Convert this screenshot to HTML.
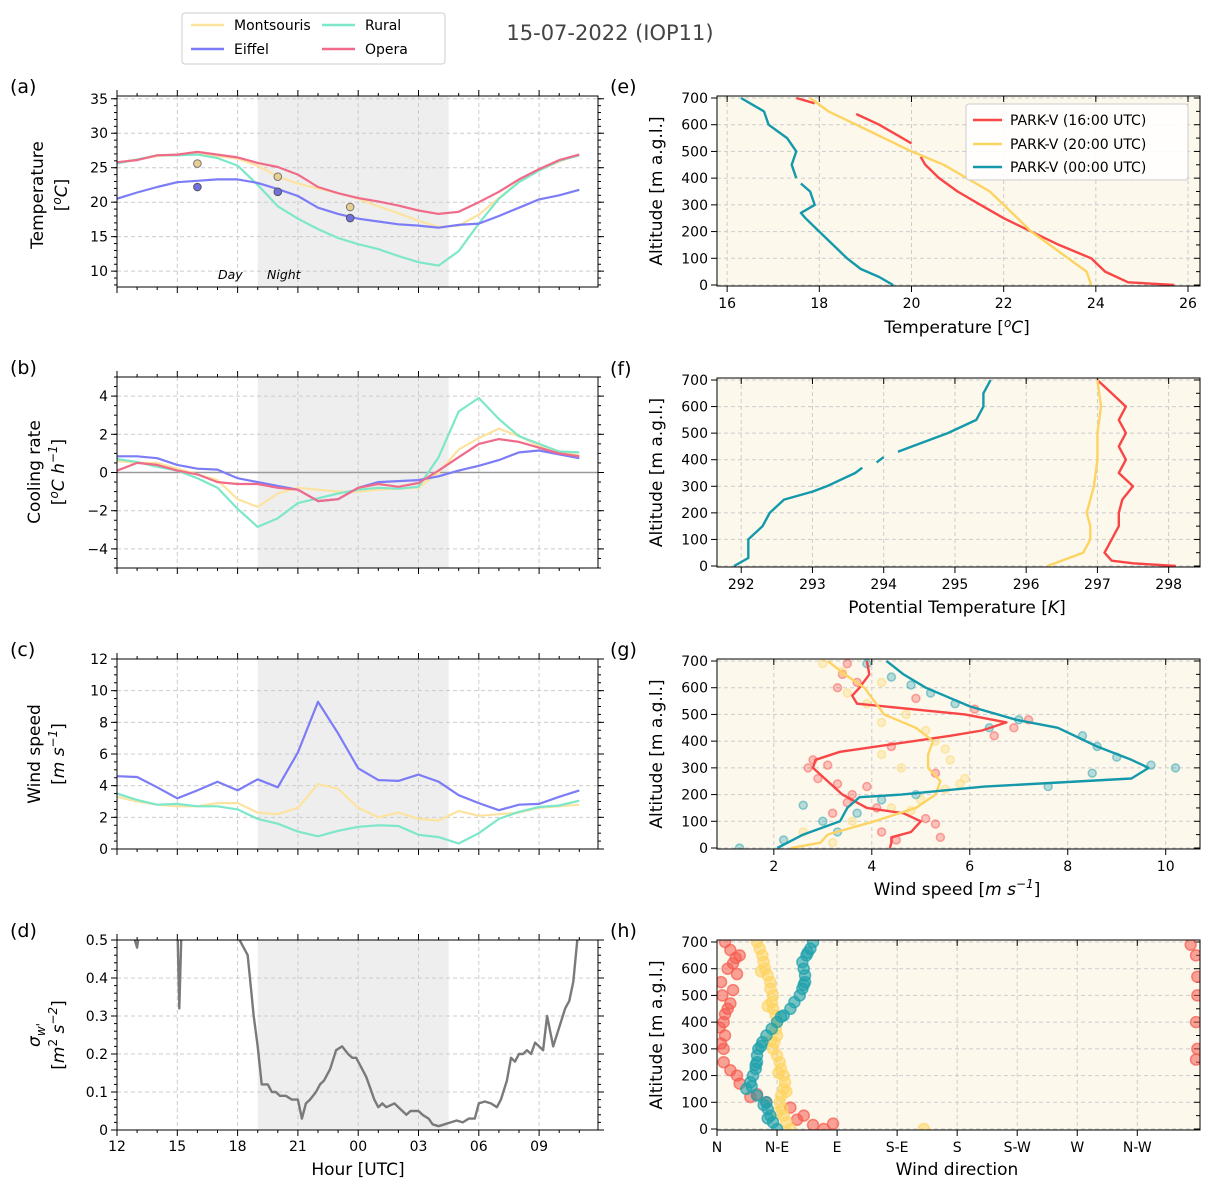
<!DOCTYPE html>
<html><head><meta charset="utf-8"><style>
body{margin:0;background:#fff;}
svg{display:block;font-family:"DejaVu Sans","Liberation Sans",sans-serif;}
</style></head><body>
<svg id="fig" width="1215" height="1191" viewBox="0 0 1215 1191" xmlns="http://www.w3.org/2000/svg"></svg>
<script>
// ---------- DATA ----------
const hours = [12,13,14,15,16,17,18,19,20,21,22,23,24,25,26,27,28,29,30,31,32,33,34,35];
const tempMontsouris = [25.7,26.2,26.7,26.9,27.0,26.7,26.3,25.3,23.7,22.7,22.0,21.3,20.5,19.4,18.4,17.3,16.4,16.6,18.2,20.6,23.0,24.6,25.9,26.9];
const tempEiffel = [20.5,21.4,22.2,22.9,23.1,23.3,23.3,22.8,21.9,20.9,19.2,18.3,17.6,17.2,16.8,16.6,16.3,16.7,16.9,18.0,19.2,20.4,21.0,21.8];
const tempRural = [25.6,26.2,26.8,26.8,26.9,26.4,25.3,22.5,19.4,17.6,16.1,14.8,13.9,13.2,12.2,11.3,10.8,12.9,16.9,20.5,22.9,24.6,26.0,26.8];
const tempOpera = [25.8,26.1,26.8,26.9,27.3,26.9,26.5,25.7,25.1,24.0,22.2,21.3,20.6,20.1,19.5,18.8,18.3,18.6,20.0,21.5,23.3,24.8,26.1,26.9];
const markHours = [16,20,23.6];
const markMontsouris = [25.6,23.7,19.3];
const markEiffel = [22.2,21.5,17.7];

const coolMontsouris = [0.6,0.5,0.5,0.2,-0.1,-0.4,-1.4,-1.8,-1.1,-0.8,-0.9,-1.0,-1.0,-0.9,-0.85,-0.8,0.0,1.2,1.8,2.3,1.9,1.4,1.1,0.9];
const coolEiffel = [0.85,0.85,0.75,0.4,0.2,0.15,-0.3,-0.5,-0.7,-0.9,-1.5,-1.4,-0.8,-0.5,-0.45,-0.4,-0.2,0.1,0.35,0.65,1.05,1.15,0.95,0.75];
const coolRural = [0.7,0.55,0.3,0.1,-0.3,-0.8,-1.9,-2.85,-2.4,-1.6,-1.35,-1.1,-0.9,-0.8,-0.85,-0.75,0.8,3.2,3.9,2.8,1.9,1.5,1.1,1.05];
const coolOpera = [0.1,0.5,0.4,0.1,-0.1,-0.5,-0.6,-0.6,-0.8,-0.9,-1.5,-1.4,-0.8,-0.6,-0.75,-0.55,0.1,0.8,1.5,1.75,1.6,1.3,1.0,0.85];

const windMontsouris = [3.3,3.0,2.8,2.7,2.7,2.9,2.9,2.3,2.2,2.6,4.1,3.8,2.6,2.0,2.3,1.9,1.8,2.4,2.1,2.2,2.3,2.6,2.7,2.8];
const windEiffel = [4.6,4.55,3.9,3.2,3.7,4.25,3.7,4.4,3.9,6.1,9.3,7.3,5.1,4.35,4.3,4.7,4.25,3.4,2.9,2.45,2.8,2.85,3.3,3.7];
const windRural = [3.5,3.1,2.8,2.85,2.7,2.7,2.5,1.9,1.6,1.1,0.8,1.15,1.4,1.5,1.45,0.9,0.75,0.35,1.0,1.9,2.35,2.65,2.75,3.05];

const sigHours = [12.0,12.6,13.0,13.1,13.5,14.5,15.0,15.1,15.25,16.5,17.9,18.1,18.5,18.8,19.0,19.2,19.5,19.7,19.9,20.1,20.4,20.7,21.0,21.2,21.4,21.6,21.9,22.1,22.3,22.6,22.9,23.2,23.5,23.7,23.9,24.2,24.4,24.6,24.8,25.0,25.2,25.4,25.6,25.8,26.0,26.2,26.4,26.6,26.8,27.0,27.2,27.5,27.7,28.0,28.3,28.6,28.9,29.2,29.5,29.8,30.0,30.3,30.6,30.9,31.1,31.4,31.6,31.8,32.0,32.2,32.4,32.6,32.8,33.0,33.2,33.4,33.7,34.0,34.3,34.5,34.7,34.9,35.0];
const sigValues = [0.6,0.55,0.48,0.52,0.6,0.62,0.55,0.32,0.6,0.62,0.55,0.5,0.46,0.3,0.22,0.12,0.12,0.1,0.1,0.09,0.09,0.08,0.08,0.03,0.07,0.08,0.1,0.12,0.13,0.16,0.21,0.22,0.2,0.19,0.19,0.16,0.14,0.11,0.08,0.06,0.07,0.06,0.065,0.07,0.06,0.05,0.04,0.05,0.05,0.05,0.04,0.03,0.015,0.01,0.015,0.02,0.025,0.02,0.03,0.03,0.07,0.075,0.07,0.06,0.08,0.13,0.19,0.18,0.2,0.2,0.21,0.2,0.23,0.22,0.21,0.3,0.22,0.27,0.32,0.34,0.39,0.5,0.7];

const altE16 = [0,10,50,100,150,200,250,300,350,400,450,480,null,530,550,600,640,null,680,700];
const tE16 = [25.7,24.7,24.2,23.9,23.2,22.6,22.0,21.5,21.0,20.6,20.3,20.2,null,20.0,19.8,19.3,18.8,null,17.9,17.5];
const altE20 = [0,50,100,150,200,250,300,350,400,450,500,550,600,650,700];
const tE20 = [23.9,23.8,23.4,23.0,22.6,22.3,22.0,21.7,21.2,20.7,20.0,19.4,18.8,18.2,17.8];
const altE00 = [0,30,60,100,150,200,250,270,300,350,380,null,400,450,500,550,600,650,700];
const tE00 = [19.6,19.3,18.9,18.6,18.3,18.0,17.7,17.6,17.9,17.8,17.6,null,17.5,17.4,17.5,17.3,16.9,16.8,16.3];

const altF16 = [0,10,20,50,100,150,200,250,300,350,400,450,500,550,600,650,700];
const thF16 = [298.1,297.5,297.2,297.1,297.2,297.3,297.3,297.35,297.5,297.3,297.4,297.3,297.4,297.3,297.4,297.2,297.0];
const altF20 = [0,50,100,150,200,250,300,400,500,600,700];
const thF20 = [296.3,296.8,296.9,296.9,296.85,296.9,296.95,297.0,297.0,297.05,297.0];
const altF00 = [0,30,100,150,200,250,280,300,350,370,null,390,410,null,430,450,500,550,600,650,700];
const thF00 = [291.9,292.1,292.1,292.3,292.4,292.6,293.0,293.2,293.6,293.7,null,293.9,294.0,null,294.2,294.4,294.9,295.3,295.4,295.4,295.5];

const altG = [0,20,40,60,100,130,150,200,250,300,330,360,420,440,470,500,540,570,600,650,700];
const wsG16 = [4.37,4.4,4.4,4.8,5.0,4.65,3.9,3.4,3.1,2.8,2.85,3.35,5.6,6.25,6.75,5.9,3.7,3.6,3.75,3.95,3.9];
const altG2 = [0,20,50,100,150,200,250,300,350,400,450,500,550,600,650,700];
const wsG20 = [2.35,2.95,3.1,4.05,4.9,5.3,5.4,5.15,5.15,5.25,4.9,4.25,4.05,3.85,3.45,3.1];
const altG3 = [0,50,100,150,190,200,230,260,300,330,380,450,480,530,600,650,700];
const wsG00 = [2.07,2.6,3.35,3.5,3.75,4.6,6.3,9.3,9.65,9.3,8.6,7.8,6.95,6.0,5.1,4.65,4.3];
const dotAlt16 = [30,60,90,110,150,170,200,240,260,300,310,330,380,420,450,480,520,560,600,620,650,690,40,130,230,280];
const dotWs16 = [4.5,4.2,5.3,5.1,4.1,3.5,3.6,3.3,2.9,2.7,3.1,2.8,4.4,6.5,6.9,7.2,6.1,4.9,3.3,3.7,3.4,3.5,5.4,3.2,3.9,5.3];
const dotAlt20 = [20,60,100,140,180,220,260,300,330,370,400,440,470,500,540,580,620,660,690,150,240,350];
const dotWs20 = [3.2,2.6,3.6,4.8,5.0,5.5,5.9,4.6,5.6,5.5,5.3,5.1,4.2,4.7,3.9,3.5,4.2,3.4,3.0,4.4,5.8,4.2];
const dotAlt00 = [0,30,60,100,130,180,230,300,280,310,340,380,420,450,480,540,580,610,640,690,200,160];
const dotWs00 = [1.3,2.2,3.3,3.0,3.7,4.2,7.6,10.2,8.5,9.7,9.0,8.6,8.3,6.4,7.0,5.7,5.2,4.8,4.4,3.9,4.9,2.6];

const dirAlt16 = [0,20,50,80,100,130,170,200,250,300,350,400,450,500,550,600,620,650,670,700,260,300,400,500,570,650,690,15,35,120,220,320,380,430,470,520,580,640];
const dir16 = [80,87,65,55,37,30,17,15,5,5,6,5,8,4,3,8,12,17,10,6,359,360,359,360,360,359,355,72,60,25,10,3,2,6,10,12,15,14];
const dirAlt20 = [0,25,50,75,100,125,150,175,200,225,250,275,300,325,350,375,400,425,450,475,500,525,550,575,600,625,650,675,700,0,60,140,210,330,460,590];
const dir20 = [55,52,50,49,47,48,50,51,50,48,47,45,42,43,45,44,45,44,42,41,42,40,40,38,36,35,34,32,30,155,45,52,46,40,38,33];
const dirAlt00 = [0,25,50,75,100,125,150,175,200,225,250,275,300,325,350,375,400,425,450,475,500,525,550,575,600,625,650,675,700,40,90,160,240,310,420,540,660];
const dir00 = [45,42,40,38,37,30,22,25,27,29,30,30,31,34,37,41,45,50,55,58,62,64,66,66,65,64,67,70,72,38,35,26,29,33,48,65,68];

// ---------- HELPERS ----------
const svg = document.getElementById('fig');
const NS = 'http://www.w3.org/2000/svg';
function mk(tag, attrs, parent, name) {
  const e = document.createElementNS(NS, tag);
  for (const k in attrs) e.setAttribute(k, attrs[k]);
  
  
  (parent || svg).appendChild(e);
  return e;
}
function txt(s, attrs, name, parent) { const t = mk('text', attrs, parent, name); t.textContent = s; return t; }
function lin(d0, d1, r0, r1) { return v => r0 + (v - d0) / (d1 - d0) * (r1 - r0); }
function pathD(xs, ys, sx, sy) {
  let d = '', pen = false;
  for (let i = 0; i < xs.length; i++) {
    if (xs[i] === null || ys[i] === null) { pen = false; continue; }
    d += (pen ? 'L' : 'M') + sx(xs[i]).toFixed(1) + ',' + sy(ys[i]).toFixed(1);
    pen = true;
  }
  return d;
}
const C = {mont:'#fde3a0', eiff:'#7c7cf6', rur:'#7de7c9', op:'#f06b89', r:'#f84646', y:'#fdd462', t:'#1499ab'};
const TF = 14, AF = 17;

const LX0 = 117, LX1 = 598;
const hx = lin(12, 12 + (LX1 - LX0) / 20.1, LX0, LX1);
const panelsL = [
  {y0:96, y1:287, lo:7.7, hi:35.4, ticks:[10,15,20,25,30,35], minor:1, lab:'(a)'},
  {y0:377, y1:568, lo:-5, hi:5, ticks:[-4,-2,0,2,4], minor:0.5, lab:'(b)'},
  {y0:659, y1:849, lo:0, hi:12, ticks:[0,2,4,6,8,10,12], minor:0.5, lab:'(c)'},
  {y0:940, y1:1130, lo:0, hi:0.5, ticks:[0,0.1,0.2,0.3,0.4,0.5], minor:0.02, lab:'(d)'}
];
const hourTicks = [12,15,18,21,24,27,30,33];
const hourLabels = ['12','15','18','21','00','03','06','09'];

function leftPanel(p, idx) {
  const g = mk('g', {}, svg, 'panel-' + p.lab.replace(/[()]/g,''));
  const sy = lin(p.lo, p.hi, p.y1, p.y0);
  const cid = 'clipL' + idx;
  const cp = mk('clipPath', {id: cid}, g, 'clip');
  mk('rect', {x: LX0, y: p.y0, width: LX1 - LX0, height: p.y1 - p.y0}, cp, 'clip-rect');
  mk('rect', {x: hx(19), y: p.y0, width: hx(28.5) - hx(19), height: p.y1 - p.y0, fill: '#eeeeee'}, g, 'night-shade');
  hourTicks.forEach(h => mk('line', {x1: hx(h), x2: hx(h), y1: p.y0, y2: p.y1, stroke: '#cccccc', 'stroke-dasharray': '4,3', 'stroke-width': 1}, g, 'grid-x'));
  p.ticks.forEach(v => mk('line', {x1: LX0, x2: LX1, y1: sy(v), y2: sy(v), stroke: '#cccccc', 'stroke-dasharray': '4,3', 'stroke-width': 1}, g, 'grid-y'));
  for (let h = 12; h <= 35; h++) {
    const L = (h % 3 === 0) ? 6 : 3;
    mk('line', {x1: hx(h), x2: hx(h), y1: p.y1, y2: p.y1 + L, stroke: '#000'}, g, 'x-tick');
    mk('line', {x1: hx(h), x2: hx(h), y1: p.y0, y2: p.y0 - L, stroke: '#000'}, g, 'x-tick-top');
  }
  for (let v = Math.ceil(p.lo / p.minor) * p.minor; v <= p.hi + 1e-9; v += p.minor) {
    mk('line', {x1: LX0, x2: LX0 - 3, y1: sy(v), y2: sy(v), stroke: '#000'}, g, 'y-minor-tick');
    mk('line', {x1: LX1, x2: LX1 + 3, y1: sy(v), y2: sy(v), stroke: '#000'}, g, 'y-minor-tick-right');
  }
  p.ticks.forEach(v => {
    mk('line', {x1: LX0, x2: LX0 - 6, y1: sy(v), y2: sy(v), stroke: '#000'}, g, 'y-tick');
    mk('line', {x1: LX1, x2: LX1 + 6, y1: sy(v), y2: sy(v), stroke: '#000'}, g, 'y-tick-right');
    txt(String(Math.round(v * 10) / 10).replace('-', '−'), {x: LX0 - 9, y: sy(v) + 5, 'text-anchor': 'end', 'font-size': TF}, 'y-tick-label', g);
  });
  txt(p.lab, {x: 10, y: p.y0 - 3, 'font-size': 19}, 'panel-label', g);
  return {g, sy, cid};
}
function series(g, cid, xs, ys, sx, sy, col, w, name, op) {
  mk('path', {d: pathD(xs, ys, sx, sy), fill: 'none', stroke: col, 'stroke-width': w, 'clip-path': 'url(#' + cid + ')', 'stroke-linejoin': 'round', opacity: op || 1}, g, name);
}

// (a)
let P = leftPanel(panelsL[0], 0);
series(P.g, P.cid, hours, tempMontsouris, hx, P.sy, C.mont, 2.2, 'line-montsouris');
series(P.g, P.cid, hours, tempRural, hx, P.sy, C.rur, 2.2, 'line-rural');
series(P.g, P.cid, hours, tempEiffel, hx, P.sy, C.eiff, 2.2, 'line-eiffel');
series(P.g, P.cid, hours, tempOpera, hx, P.sy, C.op, 2.2, 'line-opera');
markHours.forEach((h, i) => {
  mk('circle', {cx: hx(h), cy: P.sy(markMontsouris[i]), r: 3.8, fill: '#e8cf90', stroke: '#777', 'stroke-width': 1}, P.g, 'marker-montsouris');
  mk('circle', {cx: hx(h), cy: P.sy(markEiffel[i]), r: 3.8, fill: '#7070e0', stroke: '#555', 'stroke-width': 1}, P.g, 'marker-eiffel');
});
txt('Day', {x: 218, y: 279, 'font-size': 12.5, 'font-style': 'italic'}, 'day-label', P.g);
txt('Night', {x: 267, y: 279, 'font-size': 12.5, 'font-style': 'italic'}, 'night-label', P.g);
mk('rect', {x: LX0, y: 96, width: LX1 - LX0, height: 191, fill: 'none', stroke: '#000', 'stroke-width': 1}, P.g, 'axes-frame');
let t = txt('', {transform: 'translate(43,195) rotate(-90)', 'text-anchor': 'middle', 'font-size': AF}, 'y-axis-title', P.g);
t.innerHTML = '<tspan x="0" dy="0">Temperature</tspan><tspan x="0" dy="24">[<tspan font-style="italic" dy="-6" font-size="12">o</tspan><tspan font-style="italic" dy="6">C</tspan>]</tspan>';

// (b)
P = leftPanel(panelsL[1], 1);
mk('line', {x1: LX0, x2: LX1, y1: P.sy(0), y2: P.sy(0), stroke: '#999', 'stroke-width': 1.6}, P.g, 'zero-line');
series(P.g, P.cid, hours, coolMontsouris, hx, P.sy, C.mont, 2.2, 'line-montsouris');
series(P.g, P.cid, hours, coolRural, hx, P.sy, C.rur, 2.2, 'line-rural');
series(P.g, P.cid, hours, coolEiffel, hx, P.sy, C.eiff, 2.2, 'line-eiffel');
series(P.g, P.cid, hours, coolOpera, hx, P.sy, C.op, 2.2, 'line-opera');
mk('rect', {x: LX0, y: 377, width: LX1 - LX0, height: 191, fill: 'none', stroke: '#000'}, P.g, 'axes-frame');
t = txt('', {transform: 'translate(40,472) rotate(-90)', 'text-anchor': 'middle', 'font-size': AF}, 'y-axis-title', P.g);
t.innerHTML = '<tspan x="0" dy="0">Cooling rate</tspan><tspan x="0" dy="24">[<tspan font-style="italic" dy="-6" font-size="12">o</tspan><tspan font-style="italic" dy="6">C h</tspan><tspan font-style="italic" dy="-7" font-size="12">−1</tspan><tspan dy="7">]</tspan></tspan>';

// (c)
P = leftPanel(panelsL[2], 2);
series(P.g, P.cid, hours, windMontsouris, hx, P.sy, C.mont, 2.2, 'line-montsouris');
series(P.g, P.cid, hours, windRural, hx, P.sy, C.rur, 2.2, 'line-rural');
series(P.g, P.cid, hours, windEiffel, hx, P.sy, C.eiff, 2.2, 'line-eiffel');
mk('rect', {x: LX0, y: 659, width: LX1 - LX0, height: 190, fill: 'none', stroke: '#000'}, P.g, 'axes-frame');
t = txt('', {transform: 'translate(40,754) rotate(-90)', 'text-anchor': 'middle', 'font-size': AF}, 'y-axis-title', P.g);
t.innerHTML = '<tspan x="0" dy="0">Wind speed</tspan><tspan x="0" dy="24">[<tspan font-style="italic">m s</tspan><tspan font-style="italic" dy="-7" font-size="12">−1</tspan><tspan dy="7">]</tspan></tspan>';

// (d)
P = leftPanel(panelsL[3], 3);
series(P.g, P.cid, sigHours, sigValues, hx, P.sy, '#7a7a7a', 2.4, 'line-sigma-w');
mk('rect', {x: LX0, y: 940, width: LX1 - LX0, height: 190, fill: 'none', stroke: '#000'}, P.g, 'axes-frame');
hourTicks.forEach((h, i) => txt(hourLabels[i], {x: hx(h), y: 1151, 'text-anchor': 'middle', 'font-size': TF}, 'x-tick-label', P.g));
txt('Hour [UTC]', {x: 358, y: 1175, 'text-anchor': 'middle', 'font-size': AF}, 'x-axis-title', P.g);
t = txt('', {transform: 'translate(40,1035) rotate(-90)', 'text-anchor': 'middle', 'font-size': AF}, 'y-axis-title', P.g);
t.innerHTML = '<tspan x="0" dy="0" font-style="italic">σ<tspan font-size="12" dy="5">w\'</tspan></tspan><tspan x="0" dy="19">[<tspan font-style="italic">m</tspan><tspan dy="-7" font-size="12">2</tspan><tspan font-style="italic" dy="7"> s</tspan><tspan font-style="italic" dy="-7" font-size="12">−2</tspan><tspan dy="7">]</tspan></tspan>';

// ---------- RIGHT PANELS ----------
const RX0 = 717, RX1 = 1200;
const panelsR = [
  {y0:96, y1:286, lo:15.78, hi:26.26, ticks:[16,18,20,22,24,26], labs:['16','18','20','22','24','26'], lab:'(e)'},
  {y0:378, y1:567, lo:291.66, hi:298.44, ticks:[292,293,294,295,296,297,298], labs:['292','293','294','295','296','297','298'], lab:'(f)'},
  {y0:659, y1:849, lo:0.84, hi:10.7, ticks:[2,4,6,8,10], labs:['2','4','6','8','10'], lab:'(g)'},
  {y0:940, y1:1130, lo:0, hi:362, ticks:[0,45,90,135,180,225,270,315], labs:['N','N-E','E','S-E','S','S-W','W','N-W'], lab:'(h)'}
];
function rightPanel(p, idx) {
  const g = mk('g', {}, svg, 'panel-' + p.lab.replace(/[()]/g,''));
  const sx = lin(p.lo, p.hi, RX0, RX1);
  const sy = lin(0, 700, p.y1 - 1, p.y0 + 2);
  const cid = 'clipR' + idx;
  const cp = mk('clipPath', {id: cid}, g, 'clip');
  mk('rect', {x: RX0, y: p.y0, width: RX1 - RX0, height: p.y1 - p.y0}, cp, 'clip-rect');
  mk('rect', {x: RX0, y: p.y0, width: RX1 - RX0, height: p.y1 - p.y0, fill: '#fdf8ec'}, g, 'plot-background');
  p.ticks.forEach(v => mk('line', {x1: sx(v), x2: sx(v), y1: p.y0, y2: p.y1, stroke: '#cccccc', 'stroke-dasharray': '4,3'}, g, 'grid-x'));
  for (let a = 0; a <= 700; a += 100) mk('line', {x1: RX0, x2: RX1, y1: sy(a), y2: sy(a), stroke: '#cccccc', 'stroke-dasharray': '4,3'}, g, 'grid-y');
  for (let a = 0; a <= 700; a += 100) {
    mk('line', {x1: RX0, x2: RX0 - 6, y1: sy(a), y2: sy(a), stroke: '#000'}, g, 'y-tick');
    txt(String(a), {x: RX0 - 9, y: sy(a) + 5, 'text-anchor': 'end', 'font-size': TF}, 'y-tick-label', g);
  }
  for (let a = 0; a <= 700; a += 50) mk('line', {x1: RX1, x2: RX1 - (a % 100 ? 4 : 6), y1: sy(a), y2: sy(a), stroke: '#000'}, g, 'y-tick-right');
  p.ticks.forEach((v, i) => {
    mk('line', {x1: sx(v), x2: sx(v), y1: p.y1, y2: p.y1 + 6, stroke: '#000'}, g, 'x-tick');
    mk('line', {x1: sx(v), x2: sx(v), y1: p.y0, y2: p.y0 + 6, stroke: '#000'}, g, 'x-tick-top');
    txt(p.labs[i], {x: sx(v), y: p.y1 + 22, 'text-anchor': 'middle', 'font-size': TF}, 'x-tick-label', g);
  });
  txt(p.lab, {x: 610, y: p.y0 - 3, 'font-size': 19}, 'panel-label', g);
  txt('Altitude [m a.g.l.]', {transform: 'translate(662,' + ((p.y0 + p.y1) / 2) + ') rotate(-90)', 'text-anchor': 'middle', 'font-size': AF}, 'y-axis-title', g);
  return {g, sx, sy, cid, p};
}
function frame(R) { mk('rect', {x: RX0, y: R.p.y0, width: RX1 - RX0, height: R.p.y1 - R.p.y0, fill: 'none', stroke: '#000'}, R.g, 'axes-frame'); }
function dots(R, alts, vals, col, r, op, name) {
  alts.forEach((a, i) => {
    mk('circle', {cx: R.sx(vals[i]), cy: R.sy(a), r: r, fill: col, 'fill-opacity': op, stroke: col, 'stroke-opacity': op + 0.15, 'stroke-width': 1.5, 'clip-path': 'url(#' + R.cid + ')'}, R.g, name);
  });
}

// (e)
let R = rightPanel(panelsR[0], 0);
series(R.g, R.cid, tE16, altE16, R.sx, R.sy, C.r, 2.4, 'line-park-v-16utc');
series(R.g, R.cid, tE20, altE20, R.sx, R.sy, C.y, 2.4, 'line-park-v-20utc');
series(R.g, R.cid, tE00, altE00, R.sx, R.sy, C.t, 2.4, 'line-park-v-00utc');
frame(R);
t = txt('', {x: 957, y: 333, 'text-anchor': 'middle', 'font-size': AF}, 'x-axis-title', R.g);
t.innerHTML = 'Temperature [<tspan font-style="italic" dy="-6" font-size="12">o</tspan><tspan font-style="italic" dy="6">C</tspan>]';
const lg2 = mk('g', {}, R.g, 'legend-profiles');
mk('rect', {x: 966, y: 104, width: 222, height: 76, rx: 3, fill: '#fff', 'fill-opacity': 0.85, stroke: '#ccc'}, lg2, 'legend-box');
[['PARK-V (16:00 UTC)', C.r, 120], ['PARK-V (20:00 UTC)', C.y, 144], ['PARK-V (00:00 UTC)', C.t, 167]].forEach(e => {
  mk('line', {x1: 973, x2: 1002, y1: e[2], y2: e[2], stroke: e[1], 'stroke-width': 2.4}, lg2, 'legend-entry-line');
  txt(e[0], {x: 1010, y: e[2] + 5, 'font-size': TF}, 'legend-entry', lg2);
});

// (f)
R = rightPanel(panelsR[1], 1);
series(R.g, R.cid, thF16, altF16, R.sx, R.sy, C.r, 2.4, 'line-park-v-16utc');
series(R.g, R.cid, thF20, altF20, R.sx, R.sy, C.y, 2.4, 'line-park-v-20utc');
series(R.g, R.cid, thF00, altF00, R.sx, R.sy, C.t, 2.4, 'line-park-v-00utc');
frame(R);
t = txt('', {x: 957, y: 613, 'text-anchor': 'middle', 'font-size': AF}, 'x-axis-title', R.g);
t.innerHTML = 'Potential Temperature [<tspan font-style="italic">K</tspan>]';

// (g)
R = rightPanel(panelsR[2], 2);
dots(R, dotAlt16, dotWs16, C.r, 4, 0.3, 'dot-park-v-16utc');
dots(R, dotAlt20, dotWs20, C.y, 4, 0.3, 'dot-park-v-20utc');
dots(R, dotAlt00, dotWs00, C.t, 4, 0.3, 'dot-park-v-00utc');
series(R.g, R.cid, wsG16, altG, R.sx, R.sy, C.r, 2.4, 'line-park-v-16utc');
series(R.g, R.cid, wsG20, altG2, R.sx, R.sy, C.y, 2.4, 'line-park-v-20utc');
series(R.g, R.cid, wsG00, altG3, R.sx, R.sy, C.t, 2.4, 'line-park-v-00utc');
frame(R);
t = txt('', {x: 957, y: 895, 'text-anchor': 'middle', 'font-size': AF}, 'x-axis-title', R.g);
t.innerHTML = 'Wind speed [<tspan font-style="italic">m s</tspan><tspan font-style="italic" dy="-7" font-size="12">−1</tspan><tspan dy="7">]</tspan>';

// (h)
R = rightPanel(panelsR[3], 3);
dots(R, dirAlt16, dir16, '#f55a4e', 5.5, 0.55, 'dot-dir-16utc');
dots(R, dirAlt20, dir20, '#fdd35f', 5.5, 0.55, 'dot-dir-20utc');
dots(R, dirAlt00, dir00, '#1fa2ac', 5.5, 0.6, 'dot-dir-00utc');
frame(R);
txt('Wind direction', {x: 957, y: 1175, 'text-anchor': 'middle', 'font-size': AF}, 'x-axis-title', R.g);

// ---------- TITLE & LEGEND ----------
txt('15-07-2022 (IOP11)', {x: 610, y: 40, 'text-anchor': 'middle', 'font-size': 21, fill: '#444'}, 'figure-title');
const lg = mk('g', {}, svg, 'legend-stations');
mk('rect', {x: 182, y: 13, width: 263, height: 51, rx: 3, fill: '#fff', stroke: '#ccc'}, lg, 'legend-box');
[['Montsouris', C.mont, 191, 25], ['Eiffel', C.eiff, 191, 49], ['Rural', C.rur, 322, 25], ['Opera', C.op, 322, 49]].forEach(e => {
  mk('line', {x1: e[2], x2: e[2] + 33, y1: e[3], y2: e[3], stroke: e[1], 'stroke-width': 2.4}, lg, 'legend-entry-line');
  txt(e[0], {x: e[2] + 43, y: e[3] + 5, 'font-size': TF}, 'legend-entry', lg);
});
</script>
</body></html>
